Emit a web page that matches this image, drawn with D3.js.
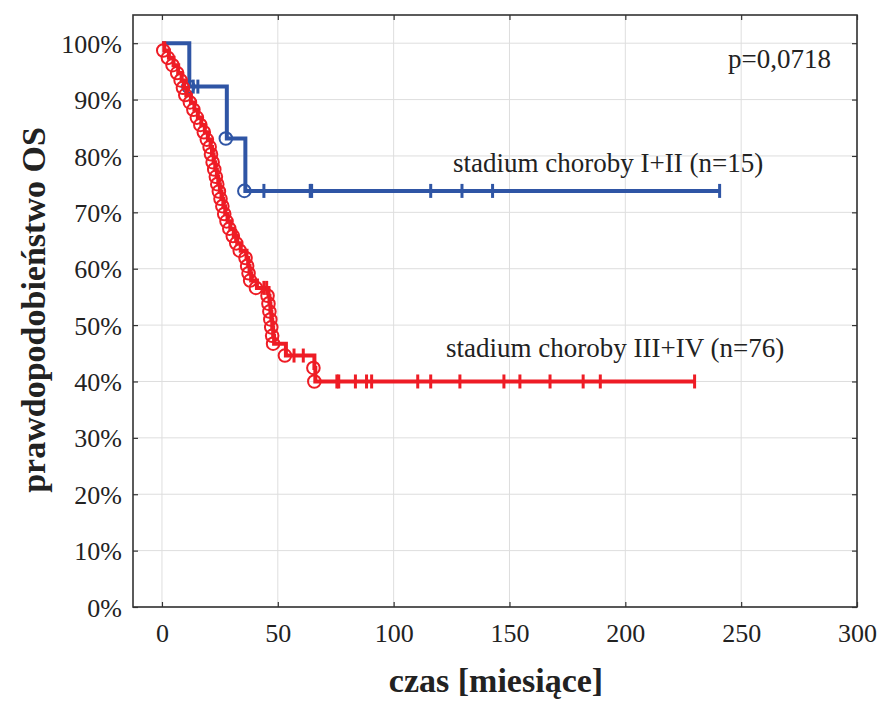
<!DOCTYPE html>
<html>
<head>
<meta charset="utf-8">
<script src="https://cdn.jsdelivr.net/npm/d3@7/dist/d3.min.js"></script>
<style>
  html, body { margin: 0; padding: 0; background: #fff; }
  svg { display: block; }
  text { font-family: "Liberation Serif", "Times New Roman", serif; fill: #222; }
</style>
</head>
<body>
<svg id="chart" width="882" height="702"></svg>
<script>
// ---- data ----
const xTicks = [0, 50, 100, 150, 200, 250, 300];
const yTicks = [0, 0.1, 0.2, 0.3, 0.4, 0.5, 0.6, 0.7, 0.8, 0.9, 1.0];

const blueEventTimes = [11.8, 28, 36];
const blueSurvival   = [0.923, 0.831, 0.738];
const blueCensored   = [13.5, 15.5, 44, 64, 64.6, 116, 129.5, 142.7, 240.7];

const redEventTimes = [1, 3, 5, 7, 8.5, 9.5, 10.5, 12.5, 14, 15.5,
                       17, 18.5, 19.8, 21, 21.6, 22.3, 23, 23.7, 24.3, 25,
                       25.7, 26.5, 27.3, 28.3, 29.5, 31, 32.5, 34, 36.5, 37.2,
                       37.8, 38.5, 41, 46, 46.4, 46.8, 47.2, 47.6, 48, 48.4,
                       53.5, 65.8, 66.2];
const redSurvival   = [0.987, 0.974, 0.961, 0.947, 0.934, 0.921, 0.908, 0.895, 0.882, 0.868,
                       0.855, 0.842, 0.829, 0.816, 0.803, 0.789, 0.776, 0.763, 0.750, 0.737,
                       0.724, 0.711, 0.697, 0.684, 0.671, 0.658, 0.645, 0.632, 0.619, 0.605,
                       0.592, 0.579, 0.566, 0.552, 0.538, 0.524, 0.510, 0.496, 0.481, 0.467,
                       0.446, 0.424, 0.400];
const redCensored   = [31.8, 44, 45.2, 57, 61, 75.5, 76.3, 83.5, 88.3, 90.5,
                       110.4, 116, 128.6, 147.6, 154.5, 167.5, 181.8, 189.2, 229.9];

const labelBlue = "stadium choroby I+II (n=15)";
const labelRed  = "stadium choroby III+IV (n=76)";
const pText     = "p=0,0718";
const xTitle    = "czas [miesiące]";
const yTitle    = "prawdopodobieństwo OS";

// ---- layout ----
const svg = d3.select("#chart");
const pL = 133, pR = 857, pT = 15, pB = 607;
const x = d3.scaleLinear().domain([-12.5, 300]).range([pL, pR]);
const y = d3.scaleLinear().domain([0, 1.05]).range([pB, pT]);

const BLUE = "#2f55a5", RED = "#ee1c25";

// gridlines
svg.append("g").selectAll("line").data(xTicks).join("line")
  .attr("x1", d => x(d)).attr("x2", d => x(d))
  .attr("y1", pT).attr("y2", pB)
  .attr("stroke", "#dedede").attr("stroke-width", 1);
svg.append("g").selectAll("line").data(yTicks).join("line")
  .attr("x1", pL).attr("x2", pR)
  .attr("y1", d => y(d)).attr("y2", d => y(d))
  .attr("stroke", "#dedede").attr("stroke-width", 1);

// axes with inward ticks on all sides
const fmtPct = d => Math.round(d * 100) + "%";
const axB = svg.append("g").attr("transform", `translate(0,${pB})`)
  .call(d3.axisBottom(x).tickValues(xTicks).tickSize(-5).tickPadding(17));
const axT = svg.append("g").attr("transform", `translate(0,${pT})`)
  .call(d3.axisTop(x).tickValues(xTicks).tickSize(-5).tickFormat(""));
const axL = svg.append("g").attr("transform", `translate(${pL},0)`)
  .call(d3.axisLeft(y).tickValues(yTicks).tickSize(-5).tickPadding(11).tickFormat(fmtPct));
const axR = svg.append("g").attr("transform", `translate(${pR},0)`)
  .call(d3.axisRight(y).tickValues(yTicks).tickSize(-5).tickFormat(""));
[axB, axT, axL, axR].forEach(a => {
  a.select(".domain").remove();
  a.selectAll(".tick line").attr("stroke", "#333").attr("stroke-width", 1.2);
  a.selectAll(".tick text").style("font-family", "'Liberation Serif', serif")
    .style("font-size", "26px").attr("fill", "#222");
});
axL.selectAll(".tick text").attr("dy", "0.35em");

// frame
svg.append("rect").attr("x", pL).attr("y", pT)
  .attr("width", pR - pL).attr("height", pB - pT)
  .attr("fill", "none").attr("stroke", "#333").attr("stroke-width", 1.6);

// ---- survival curves ----
function survAt(times, surv, t) {
  let s = 1;
  for (let i = 0; i < times.length; i++) if (times[i] <= t) s = surv[i];
  return s;
}
const line = d3.line().x(d => x(d[0])).y(d => y(d[1])).curve(d3.curveStepAfter);

function drawGroup(times, surv, cens, color) {
  const end = d3.max(cens.concat(times));
  const pts = [[0, 1]].concat(times.map((t, i) => [t, surv[i]]));
  pts.push([end, survAt(times, surv, end)]);
  const g = svg.append("g");
  g.append("path").attr("d", line(pts)).attr("fill", "none")
    .attr("stroke", color).attr("stroke-width", 4).attr("stroke-linejoin", "miter");
  g.selectAll("circle").data(times).join("circle")
    .attr("cx", (d) => x(d) - 1).attr("cy", (d, i) => y(surv[i]))
    .attr("r", 6.3).attr("fill", "none").attr("stroke", color).attr("stroke-width", 2);
  g.selectAll("line.c").data(cens).join("line").attr("class", "c")
    .attr("x1", d => x(d)).attr("x2", d => x(d))
    .attr("y1", d => y(survAt(times, surv, d)) - 7)
    .attr("y2", d => y(survAt(times, surv, d)) + 7)
    .attr("stroke", color).attr("stroke-width", 3);
}
drawGroup(blueEventTimes, blueSurvival, blueCensored, BLUE);
drawGroup(redEventTimes, redSurvival, redCensored, RED);

// ---- annotations ----
svg.append("text").attr("x", 728).attr("y", 68).style("font-size", "27px").text(pText);
svg.append("text").attr("x", 453).attr("y", 172).style("font-size", "27px").text(labelBlue);
svg.append("text").attr("x", 446).attr("y", 357).style("font-size", "27px").text(labelRed);

svg.append("text").attr("x", 496).attr("y", 692).attr("text-anchor", "middle")
  .style("font-size", "34px").style("font-weight", "bold").text(xTitle);
svg.append("text").attr("transform", "translate(45,310) rotate(-90)")
  .attr("text-anchor", "middle")
  .style("font-size", "34px").style("font-weight", "bold").text(yTitle);
</script>
</body>
</html>
